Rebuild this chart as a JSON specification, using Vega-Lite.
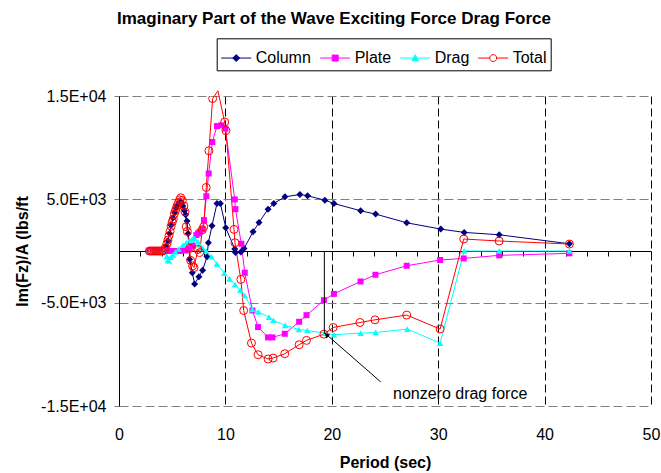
{
  "$schema": "https://vega.github.io/schema/vega-lite/v6.json",
  "width": 532,
  "height": 310,
  "autosize": "none",
  "padding": {"left": 119, "top": 96, "right": 10, "bottom": 67},
  "background": "white",
  "config": {
    "view": {"stroke": null},
    "font": "Liberation Sans",
    "axis": {"labelFont": "Liberation Sans", "titleFont": "Liberation Sans", "labelColor": "black", "titleColor": "black"}
  },
  "title": {
    "text": "Imaginary Part of  the Wave Exciting Force  Drag Force",
    "font": "Liberation Sans",
    "fontSize": 17,
    "fontWeight": "bold",
    "color": "black",
    "anchor": "middle",
    "frame": "group",
    "dx": -51,
    "offset": 10
  },
  "datasets": {
    "main": [
      {"s": "Column", "p": 2.85, "v": 0}, {"s": "Column", "p": 3.0, "v": 0}, {"s": "Column", "p": 3.15, "v": 0}, {"s": "Column", "p": 3.3, "v": 0}, {"s": "Column", "p": 3.45, "v": 0}, {"s": "Column", "p": 3.6, "v": 0}, {"s": "Column", "p": 3.75, "v": 0}, {"s": "Column", "p": 3.9, "v": 0}, {"s": "Column", "p": 4.05, "v": 0}, {"s": "Column", "p": 4.2, "v": 50}, {"s": "Column", "p": 4.35, "v": 250},
      {"s": "Column", "p": 4.45, "v": 500}, {"s": "Column", "p": 4.6, "v": 1000}, {"s": "Column", "p": 4.75, "v": 1700}, {"s": "Column", "p": 4.9, "v": 2500}, {"s": "Column", "p": 5.07, "v": 3200}, {"s": "Column", "p": 5.22, "v": 3700}, {"s": "Column", "p": 5.38, "v": 4150}, {"s": "Column", "p": 5.5, "v": 4400}, {"s": "Column", "p": 5.63, "v": 4600}, {"s": "Column", "p": 5.75, "v": 4700}, {"s": "Column", "p": 5.85, "v": 4750},
      {"s": "Column", "p": 6.0, "v": 4350}, {"s": "Column", "p": 6.15, "v": 3900}, {"s": "Column", "p": 6.26, "v": 3500}, {"s": "Column", "p": 6.39, "v": 2900}, {"s": "Column", "p": 6.5, "v": 1700}, {"s": "Column", "p": 6.64, "v": -800}, {"s": "Column", "p": 6.89, "v": -2100}, {"s": "Column", "p": 7.11, "v": -3200}, {"s": "Column", "p": 7.51, "v": -2480}, {"s": "Column", "p": 7.86, "v": -1860}, {"s": "Column", "p": 8.27, "v": -550}, {"s": "Column", "p": 8.4, "v": 800}, {"s": "Column", "p": 8.74, "v": 2440}, {"s": "Column", "p": 9.21, "v": 4600}, {"s": "Column", "p": 9.53, "v": 4600}, {"s": "Column", "p": 10.03, "v": 2250}, {"s": "Column", "p": 10.88, "v": 200}, {"s": "Column", "p": 10.95, "v": -150}, {"s": "Column", "p": 11.45, "v": -100}, {"s": "Column", "p": 11.75, "v": 250}, {"s": "Column", "p": 12.6, "v": 1860}, {"s": "Column", "p": 13.16, "v": 2770}, {"s": "Column", "p": 14.01, "v": 4050}, {"s": "Column", "p": 14.55, "v": 4600}, {"s": "Column", "p": 15.6, "v": 5240}, {"s": "Column", "p": 17.0, "v": 5470}, {"s": "Column", "p": 17.72, "v": 5340}, {"s": "Column", "p": 19.35, "v": 4920}, {"s": "Column", "p": 20.2, "v": 4600}, {"s": "Column", "p": 22.71, "v": 3890}, {"s": "Column", "p": 24.12, "v": 3570}, {"s": "Column", "p": 27.04, "v": 2730}, {"s": "Column", "p": 30.24, "v": 2120}, {"s": "Column", "p": 32.44, "v": 1800}, {"s": "Column", "p": 35.73, "v": 1570}, {"s": "Column", "p": 42.33, "v": 700},

      {"s": "Plate", "p": 2.85, "v": 0}, {"s": "Plate", "p": 3.3, "v": 0}, {"s": "Plate", "p": 3.75, "v": 0}, {"s": "Plate", "p": 4.2, "v": 0}, {"s": "Plate", "p": 4.6, "v": 0}, {"s": "Plate", "p": 5.0, "v": 0}, {"s": "Plate", "p": 5.4, "v": 0}, {"s": "Plate", "p": 5.8, "v": 0}, {"s": "Plate", "p": 6.2, "v": 50}, {"s": "Plate", "p": 6.6, "v": 200}, {"s": "Plate", "p": 6.95, "v": 500}, {"s": "Plate", "p": 7.27, "v": 1540}, {"s": "Plate", "p": 7.42, "v": 1700}, {"s": "Plate", "p": 7.58, "v": 1860}, {"s": "Plate", "p": 7.83, "v": 2090}, {"s": "Plate", "p": 7.99, "v": 2990}, {"s": "Plate", "p": 8.21, "v": 5300}, {"s": "Plate", "p": 8.43, "v": 7500}, {"s": "Plate", "p": 8.77, "v": 10550}, {"s": "Plate", "p": 9.21, "v": 12090}, {"s": "Plate", "p": 9.62, "v": 12160}, {"s": "Plate", "p": 10.0, "v": 11840}, {"s": "Plate", "p": 10.88, "v": 4990}, {"s": "Plate", "p": 10.94, "v": 4050}, {"s": "Plate", "p": 11.5, "v": 700}, {"s": "Plate", "p": 11.82, "v": -2100}, {"s": "Plate", "p": 12.54, "v": -5760}, {"s": "Plate", "p": 13.07, "v": -7360}, {"s": "Plate", "p": 14.01, "v": -8360}, {"s": "Plate", "p": 14.42, "v": -8360}, {"s": "Plate", "p": 15.58, "v": -8010}, {"s": "Plate", "p": 16.93, "v": -6850}, {"s": "Plate", "p": 17.62, "v": -6210}, {"s": "Plate", "p": 19.26, "v": -4760}, {"s": "Plate", "p": 20.2, "v": -4150}, {"s": "Plate", "p": 22.7, "v": -2950}, {"s": "Plate", "p": 24.1, "v": -2300}, {"s": "Plate", "p": 27.04, "v": -1430}, {"s": "Plate", "p": 30.18, "v": -870}, {"s": "Plate", "p": 32.4, "v": -720}, {"s": "Plate", "p": 35.73, "v": -420}, {"s": "Plate", "p": 42.33, "v": -230},

      {"s": "Drag", "p": 2.85, "v": 0}, {"s": "Drag", "p": 3.3, "v": 0}, {"s": "Drag", "p": 3.75, "v": 0}, {"s": "Drag", "p": 4.2, "v": 0}, {"s": "Drag", "p": 4.5, "v": -500}, {"s": "Drag", "p": 4.6, "v": -870}, {"s": "Drag", "p": 4.69, "v": -965}, {"s": "Drag", "p": 4.85, "v": -600}, {"s": "Drag", "p": 5.07, "v": -386}, {"s": "Drag", "p": 5.3, "v": -100}, {"s": "Drag", "p": 5.6, "v": 200}, {"s": "Drag", "p": 6.0, "v": 580}, {"s": "Drag", "p": 6.32, "v": 800}, {"s": "Drag", "p": 6.64, "v": 1060}, {"s": "Drag", "p": 6.89, "v": 1150}, {"s": "Drag", "p": 7.11, "v": 1220}, {"s": "Drag", "p": 7.42, "v": 900}, {"s": "Drag", "p": 7.58, "v": 580}, {"s": "Drag", "p": 7.86, "v": 250}, {"s": "Drag", "p": 8.2, "v": 0}, {"s": "Drag", "p": 8.68, "v": -550}, {"s": "Drag", "p": 9.2, "v": -1250}, {"s": "Drag", "p": 9.9, "v": -2150}, {"s": "Drag", "p": 10.4, "v": -2700}, {"s": "Drag", "p": 10.9, "v": -3250}, {"s": "Drag", "p": 11.4, "v": -3800}, {"s": "Drag", "p": 11.82, "v": -4300}, {"s": "Drag", "p": 12.54, "v": -5650}, {"s": "Drag", "p": 13.1, "v": -5900}, {"s": "Drag", "p": 14.1, "v": -6400}, {"s": "Drag", "p": 14.5, "v": -6700}, {"s": "Drag", "p": 15.62, "v": -7200}, {"s": "Drag", "p": 16.9, "v": -7600}, {"s": "Drag", "p": 17.7, "v": -7700}, {"s": "Drag", "p": 19.35, "v": -7950}, {"s": "Drag", "p": 20.2, "v": -8100}, {"s": "Drag", "p": 22.71, "v": -7950}, {"s": "Drag", "p": 24.12, "v": -7880}, {"s": "Drag", "p": 27.1, "v": -7560}, {"s": "Drag", "p": 30.18, "v": -8910}, {"s": "Drag", "p": 32.44, "v": 0}, {"s": "Drag", "p": 35.73, "v": 0}, {"s": "Drag", "p": 42.33, "v": 0},

      {"s": "Total", "p": 2.85, "v": 0}, {"s": "Total", "p": 3.0, "v": 0}, {"s": "Total", "p": 3.15, "v": 0}, {"s": "Total", "p": 3.3, "v": 0}, {"s": "Total", "p": 3.45, "v": 0}, {"s": "Total", "p": 3.6, "v": 0}, {"s": "Total", "p": 3.75, "v": 0}, {"s": "Total", "p": 3.9, "v": 0}, {"s": "Total", "p": 4.05, "v": 0}, {"s": "Total", "p": 4.2, "v": 50}, {"s": "Total", "p": 4.35, "v": 300}, {"s": "Total", "p": 4.5, "v": 700}, {"s": "Total", "p": 4.6, "v": 1060}, {"s": "Total", "p": 4.7, "v": 1500}, {"s": "Total", "p": 4.8, "v": 1900}, {"s": "Total", "p": 4.9, "v": 2400}, {"s": "Total", "p": 5.0, "v": 2800}, {"s": "Total", "p": 5.1, "v": 3100}, {"s": "Total", "p": 5.2, "v": 3600}, {"s": "Total", "p": 5.3, "v": 3900}, {"s": "Total", "p": 5.4, "v": 4200}, {"s": "Total", "p": 5.5, "v": 4450}, {"s": "Total", "p": 5.6, "v": 4700}, {"s": "Total", "p": 5.7, "v": 4950}, {"s": "Total", "p": 5.8, "v": 5150}, {"s": "Total", "p": 5.95, "v": 4900}, {"s": "Total", "p": 6.1, "v": 4350}, {"s": "Total", "p": 6.2, "v": 3800}, {"s": "Total", "p": 6.32, "v": 2350}, {"s": "Total", "p": 6.42, "v": 1900}, {"s": "Total", "p": 6.63, "v": 250}, {"s": "Total", "p": 6.73, "v": -900}, {"s": "Total", "p": 6.92, "v": -1450}, {"s": "Total", "p": 7.05, "v": -1600}, {"s": "Total", "p": 7.42, "v": 150}, {"s": "Total", "p": 7.58, "v": -150}, {"s": "Total", "p": 7.83, "v": 2050}, {"s": "Total", "p": 7.96, "v": 2350}, {"s": "Total", "p": 8.2, "v": 6150}, {"s": "Total", "p": 8.45, "v": 9700}, {"s": "Total", "p": 8.8, "v": 14750}, {"s": "Total", "p": 9.3, "v": 15500}, {"s": "Total", "p": 9.93, "v": 12480}, {"s": "Total", "p": 10.05, "v": 11650}, {"s": "Total", "p": 10.81, "v": 2090}, {"s": "Total", "p": 10.9, "v": 800}, {"s": "Total", "p": 11.45, "v": -2750}, {"s": "Total", "p": 11.72, "v": -5760}, {"s": "Total", "p": 12.45, "v": -8910}, {"s": "Total", "p": 13.07, "v": -10040}, {"s": "Total", "p": 14.01, "v": -10450}, {"s": "Total", "p": 14.48, "v": -10360}, {"s": "Total", "p": 15.58, "v": -9940}, {"s": "Total", "p": 16.93, "v": -9070}, {"s": "Total", "p": 17.62, "v": -8650}, {"s": "Total", "p": 19.26, "v": -8050}, {"s": "Total", "p": 20.13, "v": -7400}, {"s": "Total", "p": 22.65, "v": -6920}, {"s": "Total", "p": 24.06, "v": -6660}, {"s": "Total", "p": 27.04, "v": -6200}, {"s": "Total", "p": 30.18, "v": -7550}, {"s": "Total", "p": 32.4, "v": 1160}, {"s": "Total", "p": 35.73, "v": 965}, {"s": "Total", "p": 42.33, "v": 675}
    ],
    "lines": [
      {"p": 19.3, "v": 0, "p2": 19.3, "v2": -8000},
      {"p": 19.35, "v": -7950, "p2": 24.6, "v2": -12670}
    ],
    "head": [{"p": 19.5, "v": -8120}],
    "label": [{"p": 25.75, "v": -13800, "t": "nonzero drag force"}]
  },
  "resolve": {"axis": {"x": "independent"}},
  "layer": [
    {
      "data": {"name": "main"},
      "mark": {"type": "line", "strokeWidth": 1, "clip": false},
      "encoding": {
        "x": {
          "field": "p", "type": "quantitative",
          "scale": {"domain": [0, 50], "nice": false, "zero": false},
          "axis": {
            "orient": "bottom", "values": [0, 10, 20, 30, 40, 50],
            "domain": false, "ticks": false, "tickSize": 0, "labelPadding": 20,
            "labelFontSize": 16, "labelFlush": false,
            "grid": true, "gridColor": "black", "gridDash": [8, 4], "gridWidth": 1,
            "title": "Period (sec)", "titleFontSize": 16, "titleFontWeight": "bold", "titlePadding": 12
          }
        },
        "y": {
          "field": "v", "type": "quantitative",
          "scale": {"domain": [-15000, 15000], "nice": false, "zero": false},
          "axis": {
            "values": [-15000, -5000, 5000, 15000],
            "labelExpr": "datum.value == 15000 ? '1.5E+04' : datum.value == 5000 ? '5.0E+03' : datum.value == -5000 ? '-5.0E+03' : '-1.5E+04'",
            "labelFontSize": 16, "labelPadding": 8,
            "domain": true, "domainColor": "black", "domainWidth": 1,
            "ticks": true, "tickSize": 5, "tickColor": "#808080",
            "grid": true, "gridColor": "#808080", "gridDash": [9, 4], "gridWidth": 1,
            "title": "Im(Fz)/A (lbs/ft", "titleFontSize": 16, "titleFontWeight": "bold", "titlePadding": 10
          }
        },
        "color": {
          "field": "s", "type": "nominal",
          "scale": {"domain": ["Column", "Plate", "Drag", "Total"], "range": ["#000080", "#FF00FF", "#00FFFF", "#FF0000"]},
          "legend": {
            "orient": "none", "legendX": 97.7, "legendY": -57.7, "direction": "horizontal",
            "title": null, "strokeColor": "black", "fillColor": "white", "padding": 4,
            "labelFont": "Liberation Sans", "labelFontSize": 16, "labelColor": "black",
            "symbolSize": 900, "labelOffset": 4, "columnPadding": 6, "symbolStrokeWidth": 1,
            "encode": {
              "symbols": {
                "update": {
                  "shape": {"signal": "datum.value === 'Column' ? 'M-1,0H1M0,-0.23L0.23,0L0,0.23L-0.23,0Z' : datum.value === 'Plate' ? 'M-1,0H1M-0.2,-0.2H0.2V0.2H-0.2Z' : datum.value === 'Drag' ? 'M-1,0H1M0,-0.22L0.22,0.18H-0.22Z' : 'M-1,0H-0.23M0.23,0H1M0.23,0A0.23,0.23,0,1,1,-0.23,0A0.23,0.23,0,1,1,0.23,0'"},
                  "fill": {"signal": "datum.value === 'Column' ? '#000080' : datum.value === 'Plate' ? '#FF00FF' : datum.value === 'Drag' ? '#00FFFF' : 'transparent'"},
                  "stroke": {"signal": "datum.value === 'Column' ? '#000080' : datum.value === 'Plate' ? '#FF00FF' : datum.value === 'Drag' ? '#00FFFF' : '#FF0000'"},
                  "strokeWidth": {"value": 1},
                  "opacity": {"value": 1}
                }
              }
            }
          }
        }
      }
    },
    {
      "data": {"name": "main"},
      "transform": [{"filter": "datum.s === 'Column'"}],
      "mark": {"type": "point", "shape": "diamond", "filled": true, "color": "#000080", "size": 49, "opacity": 1, "clip": true},
      "encoding": {
        "x": {
          "field": "p", "type": "quantitative",
          "axis": {
            "orient": "bottom", "offset": -155,
            "values": [0, 2, 4, 6, 8, 10, 12, 14, 16, 18, 20, 22, 24, 26, 28, 30, 32, 34, 36, 38, 40, 42, 44, 46, 48, 50],
            "labels": false, "grid": false, "title": null,
            "domain": true, "domainColor": "black", "domainWidth": 1,
            "ticks": true, "tickColor": "black", "tickSize": 5, "tickWidth": 1
          }
        },
        "y": {"field": "v", "type": "quantitative"}
      }
    },
    {
      "data": {"name": "main"},
      "transform": [{"filter": "datum.s === 'Plate'"}],
      "mark": {"type": "point", "shape": "square", "filled": true, "color": "#FF00FF", "size": 36, "opacity": 1, "clip": true},
      "encoding": {
        "x": {"field": "p", "type": "quantitative", "axis": null},
        "y": {"field": "v", "type": "quantitative"}
      }
    },
    {
      "data": {"name": "main"},
      "transform": [{"filter": "datum.s === 'Drag'"}],
      "mark": {"type": "point", "shape": "triangle-up", "filled": true, "color": "#00FFFF", "size": 42, "opacity": 1, "clip": true},
      "encoding": {
        "x": {"field": "p", "type": "quantitative", "axis": null},
        "y": {"field": "v", "type": "quantitative"}
      }
    },
    {
      "data": {"name": "main"},
      "transform": [{"filter": "datum.s === 'Total'"}],
      "mark": {"type": "point", "shape": "circle", "filled": false, "color": "#FF0000", "size": 64, "strokeWidth": 1, "opacity": 1, "clip": true},
      "encoding": {
        "x": {"field": "p", "type": "quantitative", "axis": null},
        "y": {"field": "v", "type": "quantitative"}
      }
    },
    {
      "data": {"name": "lines"},
      "mark": {"type": "rule", "color": "black", "strokeWidth": 1},
      "encoding": {
        "x": {"field": "p", "type": "quantitative", "axis": null},
        "y": {"field": "v", "type": "quantitative"},
        "x2": {"field": "p2"},
        "y2": {"field": "v2"}
      }
    },
    {
      "data": {"name": "head"},
      "mark": {"type": "point", "shape": "triangle-up", "filled": true, "color": "black", "size": 30, "angle": 311, "opacity": 1},
      "encoding": {
        "x": {"field": "p", "type": "quantitative", "axis": null},
        "y": {"field": "v", "type": "quantitative"}
      }
    },
    {
      "data": {"name": "label"},
      "mark": {"type": "text", "align": "left", "baseline": "middle", "font": "Liberation Sans", "fontSize": 16, "color": "black"},
      "encoding": {
        "x": {"field": "p", "type": "quantitative", "axis": null},
        "y": {"field": "v", "type": "quantitative"},
        "text": {"field": "t"}
      }
    }
  ]
}
